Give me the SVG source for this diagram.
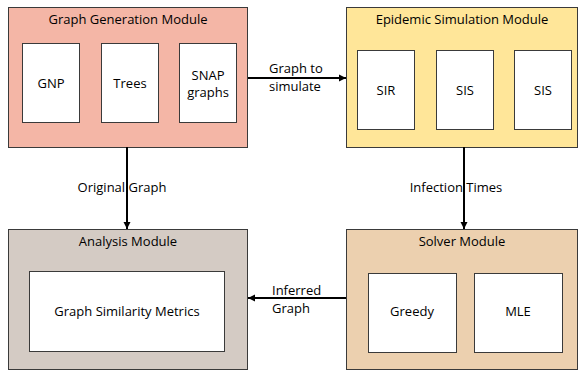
<svg xmlns="http://www.w3.org/2000/svg" width="582" height="370" viewBox="0 0 582 370">
<defs>
<marker id="ah" markerWidth="8" markerHeight="8" refX="7" refY="4" orient="auto" markerUnits="userSpaceOnUse">
<path d="M0,0.5 L7,4 L0,7.5 Z" fill="#000"/>
</marker>
<style>
.mod{stroke:#3a3a3a;stroke-width:1}
.inner{fill:#fff;stroke:#3a3a3a;stroke-width:1}
text{font-family:"Open Sans","Liberation Sans",Arial,sans-serif;font-size:13px;fill:#000;text-anchor:middle}
.lbl{text-anchor:start}
.conn{stroke:#000;stroke-width:2;fill:none;marker-end:url(#ah)}
</style>
</defs>
<rect width="582" height="370" fill="#fff"/>
<g id="graph-generation">
<rect class="mod" x="8.5" y="7.5" width="239" height="140" fill="#F4B6A6"/>
<text x="128" y="24">Graph Generation Module</text>
<g id="gnp"><rect class="inner" x="22.5" y="43.5" width="57" height="79"/><text x="51" y="88">GNP</text></g>
<g id="trees"><rect class="inner" x="101.5" y="43.5" width="57" height="79"/><text x="130" y="88">Trees</text></g>
<g id="snap"><rect class="inner" x="179.5" y="43.5" width="57" height="79"/><text x="208" y="80">SNAP</text><text x="208" y="97">graphs</text></g>
</g>
<g id="epidemic-simulation">
<rect class="mod" x="346.5" y="7.5" width="231" height="140" fill="#FFE699"/>
<text x="462" y="24">Epidemic Simulation Module</text>
<g id="sir"><rect class="inner" x="357.5" y="50.5" width="57" height="79"/><text x="386" y="95">SIR</text></g>
<g id="sis1"><rect class="inner" x="436.5" y="50.5" width="57" height="79"/><text x="465" y="95">SIS</text></g>
<g id="sis2"><rect class="inner" x="514.5" y="50.5" width="57" height="79"/><text x="543" y="95">SIS</text></g>
</g>
<g id="analysis">
<rect class="mod" x="8.5" y="229.5" width="239" height="140" fill="#D4CBC4"/>
<text x="128" y="246">Analysis Module</text>
<g id="similarity"><rect class="inner" x="29.5" y="271.5" width="195" height="80"/><text x="127" y="316">Graph Similarity Metrics</text></g>
</g>
<g id="solver">
<rect class="mod" x="346.5" y="229.5" width="231" height="140" fill="#ECD0AF"/>
<text x="462" y="246">Solver Module</text>
<g id="greedy"><rect class="inner" x="368.5" y="273.5" width="88" height="79"/><text x="412" y="316">Greedy</text></g>
<g id="mle"><rect class="inner" x="474.5" y="273.5" width="88" height="79"/><text x="518" y="316">MLE</text></g>
</g>
<g id="connectors">
<line class="conn" x1="248" y1="78" x2="346" y2="78"/>
<line class="conn" x1="127" y1="147" x2="127" y2="229"/>
<line class="conn" x1="464" y1="147" x2="464" y2="229"/>
<line class="conn" x1="346" y1="298" x2="248" y2="298"/>
<text class="lbl" x="269" y="73">Graph to</text>
<text class="lbl" x="269" y="91">simulate</text>
<text x="122" y="192">Original Graph</text>
<text x="456" y="192">Infection Times</text>
<text class="lbl" x="272" y="295">Inferred</text>
<text class="lbl" x="272" y="313">Graph</text>
</g>
</svg>
